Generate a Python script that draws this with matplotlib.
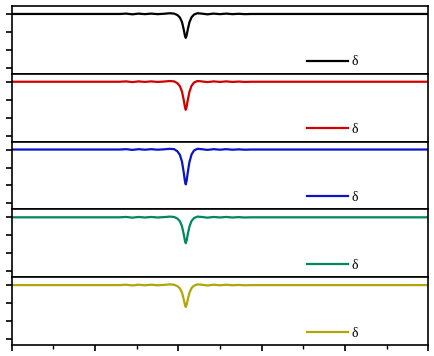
import matplotlib
matplotlib.use('Agg')
import matplotlib.pyplot as plt
from matplotlib.ticker import MultipleLocator

# shared x grid (arbitrary units, axis runs 0..10)
x = [0, 2.6, 2.75, 2.9, 3.05, 3.2, 3.35, 3.5, 3.65, 3.8, 3.9, 3.98, 4.04,
     4.09, 4.13, 4.16, 4.18, 4.20, 4.23, 4.27, 4.32, 4.38, 4.46, 4.56, 4.7,
     4.85, 5.0, 5.15, 5.3, 5.45, 5.6, 5.75, 10]

black = [0, 0, 0.02, -0.02, 0.02, -0.01, 0.02, -0.01, 0.01, 0.04, 0.02, -0.06,
         -0.2, -0.45, -0.85, -1.2, -1.33, -1.2, -0.85, -0.45, -0.18, -0.03,
         0.04, 0.02, -0.02, 0.02, -0.01, 0.02, -0.01, 0.01, -0.01, 0, 0]
red = [0, 0, 0.02, -0.02, 0.02, -0.01, 0.02, -0.01, 0.01, 0.04, 0.02, -0.08,
       -0.25, -0.55, -1.0, -1.4, -1.56, -1.4, -1.0, -0.55, -0.22, -0.04,
       0.04, 0.02, -0.02, 0.02, -0.01, 0.02, -0.01, 0.01, -0.01, 0, 0]
blue = [0, 0, 0.02, -0.02, 0.02, -0.01, 0.02, -0.01, 0.01, 0.04, 0.02, -0.1,
        -0.3, -0.68, -1.25, -1.75, -1.94, -1.75, -1.25, -0.68, -0.27, -0.05,
        0.04, 0.02, -0.02, 0.02, -0.01, 0.02, -0.01, 0.01, -0.01, 0, 0]
green = [0, 0, 0.02, -0.02, 0.02, -0.01, 0.02, -0.01, 0.01, 0.04, 0.02, -0.07,
         -0.22, -0.5, -0.92, -1.3, -1.44, -1.3, -0.92, -0.5, -0.2, -0.04,
         0.04, 0.02, -0.02, 0.02, -0.01, 0.02, -0.01, 0.01, -0.01, 0, 0]
olive = [0, 0, 0.02, -0.02, 0.02, -0.01, 0.02, -0.01, 0.01, 0.04, 0.02, -0.06,
         -0.18, -0.42, -0.78, -1.1, -1.22, -1.1, -0.78, -0.42, -0.16, -0.03,
         0.04, 0.02, -0.02, 0.02, -0.01, 0.02, -0.01, 0.01, -0.01, 0, 0]

series = [black, red, blue, green, olive]
colours = ['#000000', '#d00000', '#0a14c8', '#00875f', '#b0a50a']
labels = ['δ', 'δ', 'δ', 'δ', 'δ']
y_ticks = [0, -1, -2, -3]

fig, axes = plt.subplots(5, 1, figsize=(4.34, 3.56), dpi=100, sharex=True)
fig.subplots_adjust(left=0.0265, right=0.987, top=0.983, bottom=0.031, hspace=0)

for i, ax in enumerate(axes):
    ax.plot(x, series[i], color=colours[i], linewidth=1.6, label=labels[i])
    ax.set_xlim(0, 10)
    ax.set_ylim(-3.33, 0.44)
    ax.set_yticks(y_ticks)
    ax.set_yticklabels([])
    for s in ax.spines.values():
        s.set_linewidth(1.2)
    ax.tick_params(axis='y', direction='out', length=4, width=1.2)
    ax.tick_params(axis='x', which='both', bottom=(i == 4), labelbottom=False)
    ax.legend(loc='center left', bbox_to_anchor=(0.71, 0.175),
              frameon=False, handlelength=2.9, handletextpad=0.25,
              borderpad=0, borderaxespad=0,
              prop={'family': 'Liberation Serif', 'size': 10})

axes[-1].xaxis.set_major_locator(MultipleLocator(2))
axes[-1].xaxis.set_minor_locator(MultipleLocator(1))
axes[-1].tick_params(axis='x', which='major', direction='out', length=4, width=1.2)
axes[-1].tick_params(axis='x', which='minor', direction='out', length=3, width=1.0)

fig.savefig('out.png', dpi=100)
